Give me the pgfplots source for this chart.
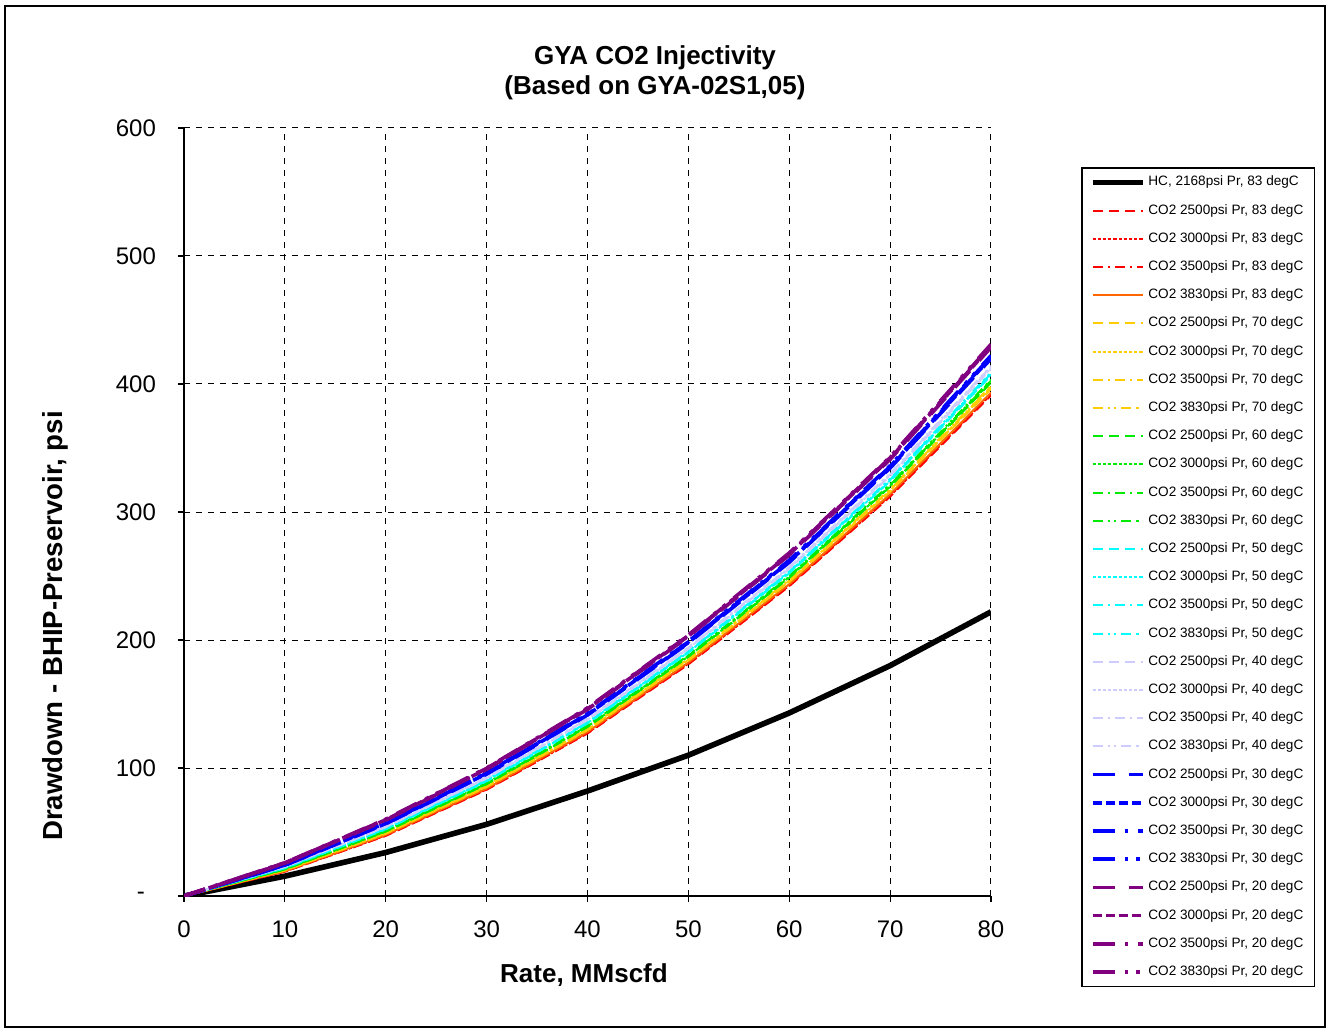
\documentclass[border=0pt]{standalone}
\usepackage{pgfplots}
\pgfplotsset{compat=1.18}
\usepackage{fontspec}
\setmainfont{Liberation Sans}
\definecolor{cRed}{RGB}{255,0,0}
\definecolor{cOra}{RGB}{255,102,0}
\definecolor{cGold}{RGB}{255,204,0}
\definecolor{cGrn}{RGB}{0,235,0}
\definecolor{cCyan}{RGB}{0,255,255}
\definecolor{cLav}{RGB}{204,204,255}
\definecolor{cBlue}{RGB}{0,0,255}
\definecolor{cPur}{RGB}{128,0,128}
\tikzset{
  pA/.style={line width=1pt, dash pattern=on 5pt off 3pt},
  pB/.style={line width=1pt, dash pattern=on 1.6pt off 1pt},
  pC/.style={line width=1pt, dash pattern=on 5pt off 2.5pt on 1.2pt off 2.5pt},
  pD/.style={line width=1pt, dash pattern=on 5pt off 2.5pt on 1.2pt off 2pt on 1.2pt off 2.5pt},
  pS/.style={line width=1pt},
  qA/.style={line width=1.8pt, dash pattern=on 11pt off 7pt},
  qB/.style={line width=1.8pt, dash pattern=on 4.5pt off 2pt},
  qC/.style={line width=1.8pt, dash pattern=on 11pt off 5pt on 1.8pt off 5pt},
  qD/.style={line width=1.8pt, dash pattern=on 11pt off 5pt on 1.8pt off 4pt on 1.8pt off 5pt},
}
\begin{document}
\begin{tikzpicture}
\useasboundingbox (0,0) rectangle (663pt,514.5pt);
\draw[line width=0.8pt] (2.5pt,1pt) rectangle (662.5pt,511.5pt);
\begin{axis}[
  at={(92pt,66.5pt)}, anchor=south west,
  scale only axis, width=403.5pt, height=384pt,
  xmin=0, xmax=80, ymin=0, ymax=600,
  axis x line*=bottom, axis y line*=left,
  xtick={0,10,...,80}, ytick={0,100,...,600},
  xticklabels={0,10,20,30,40,50,60,70,80},
  yticklabels={\makebox[9.5pt][l]{-},100,200,300,400,500,600},
  /pgf/number format/assume math mode=true,
  tick align=outside, major tick length=3pt,
  tick style={black, line width=0.6pt},
  axis line style={black, line width=0.8pt},
  grid=major, grid style={dashed, black, line width=0.5pt},
  ticklabel style={font=\fontsize{12}{14}\selectfont},
  xticklabel style={yshift=-6pt},
  yticklabel style={xshift=-7.5pt},
  legend cell align=left,
  legend image code/.code={\draw[#1] (0pt,0pt) -- (25pt,0pt);},
  legend style={at={(1.1115,0.949)}, anchor=north west,
    draw=black, line width=0.8pt, inner xsep=4pt, inner ysep=4pt,
    font=\fontsize{6.8}{8}\selectfont, row sep=7.6pt,
    nodes={inner sep=0pt, inner xsep=1.5pt, text height=5pt, text depth=1.5pt}},
]
\addplot[black, line width=2.8pt, line join=round] coordinates {(0,0) (10,15.5) (20,34) (30,56) (40,82) (50,110) (60,143) (70,180) (80,222)};
\addlegendentry{HC, 2168psi Pr, 83 degC}
% 83 degC
\addplot[cRed, pA] coordinates {(0,0) (10,19.0) (20,47.0) (30,83.0) (40,127.0) (50,181.0) (60,242.0) (70,312.0) (80,391.0)};
\addlegendentry{CO2 2500psi Pr, 83 degC}
\addplot[cRed, pB] coordinates {(0,0) (10,19.1) (20,47.3) (30,83.3) (40,127.4) (50,181.5) (60,242.5) (70,312.6) (80,391.8)};
\addlegendentry{CO2 3000psi Pr, 83 degC}
\addplot[cRed, pC] coordinates {(0,0) (10,19.3) (20,47.5) (30,83.7) (40,127.8) (50,181.9) (60,243.0) (70,313.2) (80,392.6)};
\addlegendentry{CO2 3500psi Pr, 83 degC}
\addplot[cOra, pS] coordinates {(0,0) (10,19.4) (20,47.8) (30,84.0) (40,128.2) (50,182.4) (60,243.6) (70,313.9) (80,393.4)};
\addlegendentry{CO2 3830psi Pr, 83 degC}
% 70 degC
\addplot[cGold, pA] coordinates {(0,0) (10,19.9) (20,48.7) (30,85.2) (40,129.6) (50,184.0) (60,245.4) (70,316.0) (80,396.2)};
\addlegendentry{CO2 2500psi Pr, 70 degC}
\addplot[cGold, pB] coordinates {(0,0) (10,20.1) (20,49.0) (30,85.6) (40,130.0) (50,184.5) (60,245.9) (70,316.7) (80,397.0)};
\addlegendentry{CO2 3000psi Pr, 70 degC}
\addplot[cGold, pC] coordinates {(0,0) (10,20.2) (20,49.2) (30,85.9) (40,130.4) (50,184.9) (60,246.4) (70,317.3) (80,397.8)};
\addlegendentry{CO2 3500psi Pr, 70 degC}
\addplot[cGold, pD] coordinates {(0,0) (10,20.3) (20,49.5) (30,86.2) (40,130.8) (50,185.4) (60,246.9) (70,317.9) (80,398.6)};
\addlegendentry{CO2 3830psi Pr, 70 degC}
% 60 degC
\addplot[cGrn, pA] coordinates {(0,0) (10,20.8) (20,50.3) (30,87.3) (40,132.0) (50,186.8) (60,248.5) (70,319.8) (80,401.0)};
\addlegendentry{CO2 2500psi Pr, 60 degC}
\addplot[cGrn, pB] coordinates {(0,0) (10,20.9) (20,50.5) (30,87.6) (40,132.4) (50,187.2) (60,249.0) (70,320.4) (80,401.8)};
\addlegendentry{CO2 3000psi Pr, 60 degC}
\addplot[cGrn, pC] coordinates {(0,0) (10,21.0) (20,50.8) (30,87.9) (40,132.8) (50,187.7) (60,249.5) (70,321.0) (80,402.6)};
\addlegendentry{CO2 3500psi Pr, 60 degC}
\addplot[cGrn, pD] coordinates {(0,0) (10,21.2) (20,51.0) (30,88.3) (40,133.2) (50,188.1) (60,250.1) (70,321.6) (80,403.4)};
\addlegendentry{CO2 3830psi Pr, 60 degC}
% 50 degC
\addplot[cCyan, pA] coordinates {(0,0) (10,21.7) (20,52.1) (30,89.6) (40,134.8) (50,190.0) (60,252.1) (70,324.1) (80,406.6)};
\addlegendentry{CO2 2500psi Pr, 50 degC}
\addplot[cCyan, pB] coordinates {(0,0) (10,21.9) (20,52.3) (30,90.0) (40,135.2) (50,190.4) (60,252.7) (70,324.7) (80,407.4)};
\addlegendentry{CO2 3000psi Pr, 50 degC}
\addplot[cCyan, pC] coordinates {(0,0) (10,22.0) (20,52.6) (30,90.3) (40,135.6) (50,190.9) (60,253.2) (70,325.3) (80,408.2)};
\addlegendentry{CO2 3500psi Pr, 50 degC}
\addplot[cCyan, pD] coordinates {(0,0) (10,22.2) (20,52.9) (30,90.7) (40,136.0) (50,191.4) (60,253.7) (70,326.0) (80,409.0)};
\addlegendentry{CO2 3830psi Pr, 50 degC}
% 40 degC
\addplot[cLav, pA] coordinates {(0,0) (10,22.6) (20,53.8) (30,91.8) (40,137.4) (50,193.0) (60,255.5) (70,328.1) (80,411.8)};
\addlegendentry{CO2 2500psi Pr, 40 degC}
\addplot[cLav, pB] coordinates {(0,0) (10,22.8) (20,54.0) (30,92.2) (40,137.8) (50,193.4) (60,256.0) (70,328.7) (80,412.6)};
\addlegendentry{CO2 3000psi Pr, 40 degC}
\addplot[cLav, pC] coordinates {(0,0) (10,22.9) (20,54.3) (30,92.5) (40,138.2) (50,193.9) (60,256.6) (70,329.4) (80,413.4)};
\addlegendentry{CO2 3500psi Pr, 40 degC}
\addplot[cLav, pD] coordinates {(0,0) (10,23.1) (20,54.5) (30,92.9) (40,138.6) (50,194.3) (60,257.1) (70,330.0) (80,414.2)};
\addlegendentry{CO2 3830psi Pr, 40 degC}
% 30 degC
\addplot[cBlue, qA] coordinates {(0,0) (10,24.0) (20,56.4) (30,95.2) (40,141.4) (50,197.6) (60,260.7) (70,334.3) (80,419.8)};
\addlegendentry{CO2 2500psi Pr, 30 degC}
\addplot[cBlue, qB] coordinates {(0,0) (10,24.2) (20,56.6) (30,95.6) (40,141.8) (50,198.0) (60,261.2) (70,334.9) (80,420.6)};
\addlegendentry{CO2 3000psi Pr, 30 degC}
\addplot[cBlue, qC] coordinates {(0,0) (10,24.3) (20,56.9) (30,95.9) (40,142.2) (50,198.5) (60,261.8) (70,335.6) (80,421.4)};
\addlegendentry{CO2 3500psi Pr, 30 degC}
\addplot[cBlue, qD] coordinates {(0,0) (10,24.5) (20,57.1) (30,96.3) (40,142.6) (50,198.9) (60,262.3) (70,336.2) (80,422.2)};
\addlegendentry{CO2 3830psi Pr, 30 degC}
% 20 degC
\addplot[cPur, qA] coordinates {(0,0) (10,25.6) (20,59.2) (30,99.0) (40,145.8) (50,202.6) (60,266.4) (70,341.1) (80,428.6)};
\addlegendentry{CO2 2500psi Pr, 20 degC}
\addplot[cPur, qB] coordinates {(0,0) (10,25.7) (20,59.5) (30,99.3) (40,146.2) (50,203.1) (60,267.0) (70,341.8) (80,429.4)};
\addlegendentry{CO2 3000psi Pr, 20 degC}
\addplot[cPur, qC] coordinates {(0,0) (10,25.9) (20,59.7) (30,99.7) (40,146.6) (50,203.5) (60,267.5) (70,342.4) (80,430.2)};
\addlegendentry{CO2 3500psi Pr, 20 degC}
\addplot[cPur, qD] coordinates {(0,0) (10,26.0) (20,60.0) (30,100.0) (40,147.0) (50,204.0) (60,268.0) (70,343.0) (80,431.0)};
\addlegendentry{CO2 3830psi Pr, 20 degC}
\end{axis}
\node[font=\bfseries\fontsize{13}{15}\selectfont, align=center] at (327.5pt,478pt) {GYA CO2 Injectivity\\(Based on GYA-02S1,05)};
\node[font=\bfseries\fontsize{13}{15}\selectfont] at (292pt,27pt) {Rate, MMscfd};
\node[font=\bfseries\fontsize{13.8}{15}\selectfont, rotate=90] at (27.5pt,201.5pt) {Drawdown - BHIP-Preservoir, psi};
\end{tikzpicture}
\end{document}
